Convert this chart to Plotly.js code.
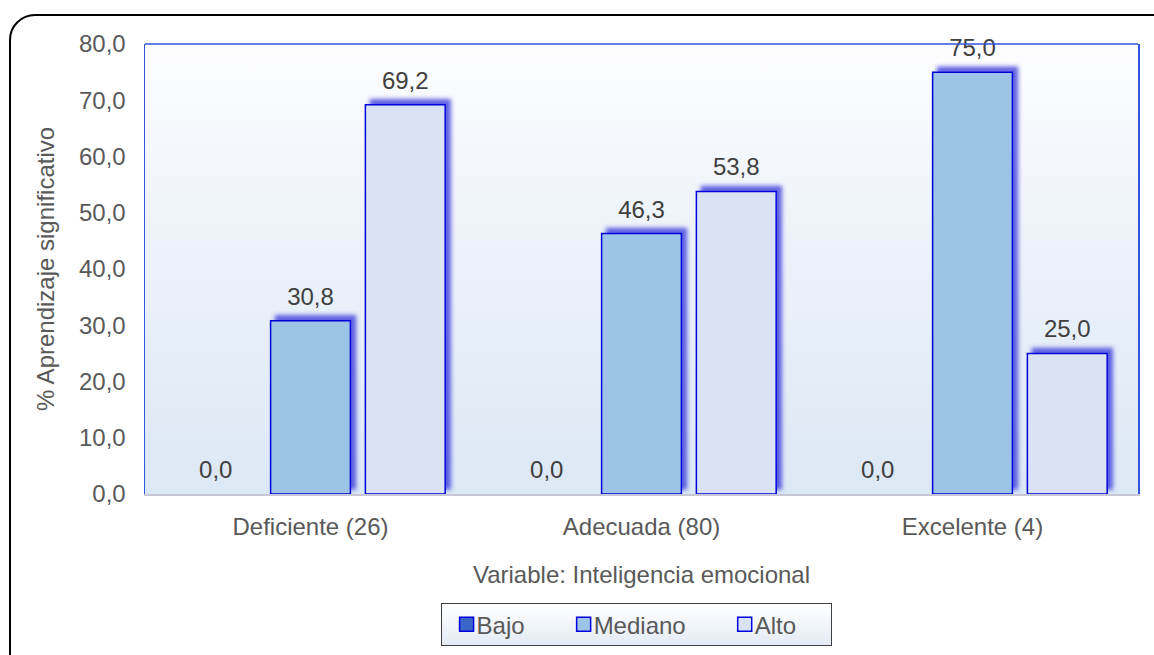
<!DOCTYPE html>
<html>
<head>
<meta charset="utf-8">
<script src="https://cdn.plot.ly/plotly-3.0.1.min.js"></script>
<style>
  html, body { margin: 0; padding: 0; background: #ffffff; overflow: hidden; }
  #wrap { position: relative; width: 1154px; height: 655px; }
  #frame { position: absolute; left: 9px; top: 14px; width: 1180px; height: 700px;
           border: 2px solid #000; border-radius: 26px; box-sizing: border-box; }
  #plotbg { position: absolute; left: 145px; top: 44px; width: 993px; height: 450px;
            background: linear-gradient(to bottom, #fdfdfe 0%, #eef3fa 40%, #dbe8f5 100%); }
  #chart { position: absolute; left: 0; top: 0; width: 1154px; height: 655px; }
</style>
</head>
<body>
<svg width="0" height="0" style="position:absolute">
  <defs>
    <filter id="barShadow" x="-30%" y="-30%" width="160%" height="160%">
      <feGaussianBlur in="SourceAlpha" stdDeviation="2"/>
      <feOffset dx="5" dy="-5" result="off"/>
      <feFlood flood-color="#3b3bdc" flood-opacity="0.8"/>
      <feComposite in2="off" operator="in"/>
      <feMerge><feMergeNode/><feMergeNode in="SourceGraphic"/></feMerge>
    </filter>
    <linearGradient id="legendFill" x1="0" y1="0" x2="0" y2="1">
      <stop offset="0" stop-color="#ffffff"/>
      <stop offset="1" stop-color="#e4eaf4"/>
    </linearGradient>
  </defs>
</svg>
<div id="wrap">
  <div id="frame"></div>
  <div id="plotbg"></div>
  <div id="chart"></div>
</div>
<script>
// Inteligencia emocional groups and % of aprendizaje significativo levels
const categories = ['Deficiente (26)', 'Adecuada (80)', 'Excelente (4)'];
const bajo    = [0.0, 0.0, 0.0];
const mediano = [30.8, 46.3, 75.0];
const alto    = [69.2, 53.8, 25.0];
const seriesNames = ['Bajo', 'Mediano', 'Alto'];
const yTicks = [0, 10, 20, 30, 40, 50, 60, 70, 80];

const fills = ['#3a66c9', '#9dc3e6', '#dae3f3'];
const values = [bajo, mediano, alto];
const font = 'Liberation Sans, Arial, sans-serif';
const fs = 24;

const traces = values.map((v, i) => ({
  type: 'bar',
  name: seriesNames[i],
  x: categories,
  y: v,
  marker: { color: fills[i], line: { color: '#0000dd', width: 1.5 } },
  texttemplate: '%{y:.1f}',
  textposition: 'outside',
  textfont: { family: font, size: fs, color: '#404040' },
  cliponaxis: false,
  hoverinfo: 'skip'
}));

const layout = {
  width: 1154, height: 655,
  margin: { l: 145, r: 16, t: 44, b: 161 },
  paper_bgcolor: 'rgba(0,0,0,0)',
  plot_bgcolor: 'rgba(0,0,0,0)',
  separators: ',.',
  barmode: 'group',
  bargap: 0.141,
  bargroupgap: 0.158,
  font: { family: font, size: fs, color: '#595959' },
  showlegend: true,
  legend: {
    orientation: 'h',
    xref: 'container', yref: 'container',
    x: 0.5512, xanchor: 'center',
    y: 0.0824, yanchor: 'top',
    bgcolor: '#eef2f8',
    bordercolor: '#404040', borderwidth: 1,
    itemwidth: 54,
    font: { family: font, size: fs, color: '#595959' },
    traceorder: 'normal'
  },
  xaxis: {
    type: 'category',
    automargin: false,
    showline: true, linecolor: '#c6c8d6', linewidth: 1.5,
    ticks: '', showgrid: false, zeroline: false,
    ticklabelstandoff: 11,
    tickfont: { family: font, size: fs, color: '#595959' },
    title: { text: 'Variable: Inteligencia emocional', standoff: 27,
             font: { family: font, size: fs, color: '#595959' } }
  },
  yaxis: {
    range: [0, 80],
    automargin: false,
    tickvals: yTicks,
    tickformat: '.1f',
    showline: true, mirror: true, linecolor: '#3355dd', linewidth: 1.5,
    ticks: '', showgrid: false, zeroline: false,
    ticklabelstandoff: 13,
    tickfont: { family: font, size: fs, color: '#595959' },
    title: { text: '% Aprendizaje significativo', standoff: 17,
             font: { family: font, size: fs, color: '#595959' } }
  },
  shapes: [{
    type: 'line', xref: 'paper', yref: 'paper',
    x0: 0, x1: 1, y0: 1, y1: 1,
    line: { color: '#3355dd', width: 1.5 }
  }]
};

Plotly.newPlot('chart', traces, layout, { displayModeBar: false, staticPlot: true }).then(() => {
  const gd = document.getElementById('chart');
  // soft blue drop shadow on every bar
  gd.querySelectorAll('.barlayer .point path').forEach(p => {
    p.setAttribute('filter', 'url(#barShadow)');
  });
  // lift the value labels a little further above the shadowed bar tops
  gd.querySelectorAll('.barlayer .bartext').forEach(t => {
    const tr = t.getAttribute('transform') || '';
    t.setAttribute('transform', 'translate(0,-8) ' + tr);
  });
  // legend entries: swatch right next to its label, entries nudged left in the box
  gd.querySelectorAll('.legend .traces').forEach(g => {
    const tr = g.getAttribute('transform') || '';
    g.setAttribute('transform', 'translate(-29,0) ' + tr);
  });
  gd.querySelectorAll('.legend .legendsymbols').forEach(s => {
    const tr = s.getAttribute('transform') || '';
    s.setAttribute('transform', 'translate(22,0) ' + tr);
  });
  gd.querySelectorAll('.legend .legendsymbols path').forEach(p => {
    p.setAttribute('d', 'M7,7H-7V-7H7Z');
  });
  // slimmer legend box with a light vertical gradient
  const bg = gd.querySelector('.legend .bg');
  if (bg) {
    bg.style.fill = 'url(#legendFill)';
    const y0 = parseFloat(bg.getAttribute('y') || '0');
    const h0 = parseFloat(bg.getAttribute('height') || '0');
    if (h0 > 8) {
      bg.setAttribute('y', y0 + 2);
      bg.setAttribute('height', h0 - 4);
    }
  }
});
</script>
</body>
</html>
